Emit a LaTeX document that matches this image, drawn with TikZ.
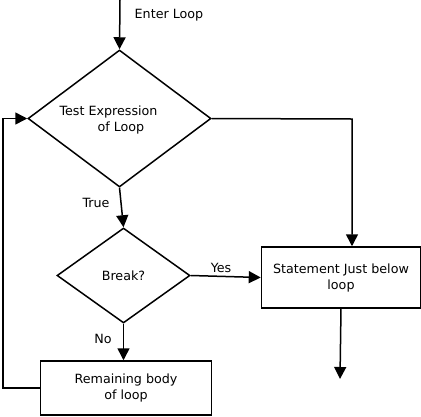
\documentclass[tikz,border=0pt]{standalone}
\usepackage{fontspec}
\setmainfont{DejaVu Sans}
\usetikzlibrary{shapes.geometric, arrows.meta, positioning}

\begin{document}
\begin{tikzpicture}[
    x=1pt, y=-1pt,
    font=\fontsize{12.7}{16}\selectfont,
    decision/.style={diamond, draw, line width=1.5pt, inner sep=0pt},
    block/.style={rectangle, draw, line width=1.5pt, align=center, inner sep=0pt},
    arrow/.style={line width=1.5pt, -{Triangle[length=12pt, width=12pt]}},
    label/.style={inner sep=0pt}
]
\useasboundingbox (0,0) rectangle (421,416);

% Decisions
\node[decision, minimum width=183pt, minimum height=137pt] (test) at (119.5,118.5) {};
\node[label, align=left] (testtext) at (108.5,120) {Test Expression\\\hspace*{38pt}of Loop};
\node[decision, minimum width=133pt, minimum height=95pt] (brk) at (123.5,275.5) {Break?};

% Blocks
\node[block, minimum width=159pt, minimum height=61pt] (after) at (341,277.5) {Statement Just below\\loop};
\node[block, minimum width=171pt, minimum height=54pt] (body) at (126,388) {Remaining body\\of loop};

% Free ends
\coordinate (enter) at (120,0);
\coordinate (exit) at (340,379);
\coordinate (turn) at (352,119);
\coordinate (back) at (3,388);

% Arrows
\draw[arrow] (enter) -- (test.north);
\draw[arrow] (test.east) -- (turn) -- (turn |- after.north);
\draw[arrow] (test.south) -- (brk.north);
\draw[arrow] (brk.east) -- (after.west);
\draw[arrow] (brk.south) -- (brk.south |- body.north);
\draw[arrow] (after.south) -- (exit);
\draw[arrow] (body.west) -- (back) |- (test.west);

% Labels
\node[label, anchor=base] (enterlbl) at (169,18) {Enter Loop};
\node[label, anchor=base] (truelbl) at (96,207) {True};
\node[label, anchor=base] (yeslbl) at (221,272) {Yes};
\node[label, anchor=base] (nolbl) at (103,343) {No};

\end{tikzpicture}
\end{document}
